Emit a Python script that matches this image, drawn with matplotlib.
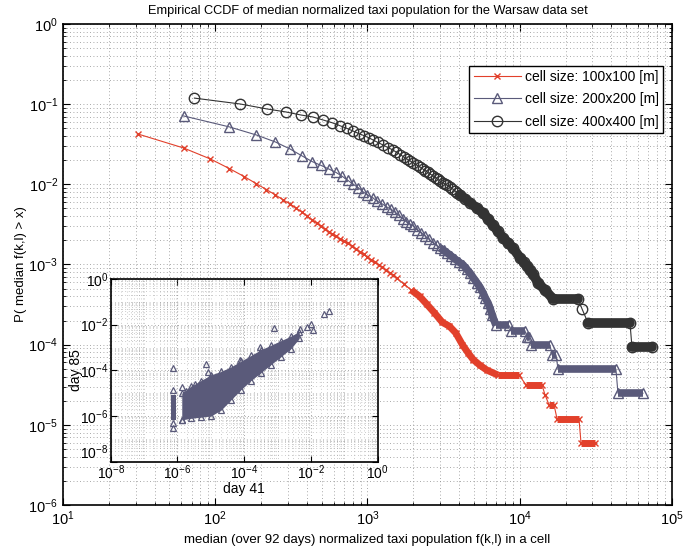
import numpy as np
import matplotlib.pyplot as plt
from matplotlib.lines import Line2D
from matplotlib.ticker import LogLocator, NullFormatter

plt.rcParams['font.family'] = ['Liberation Sans', 'DejaVu Sans']
plt.rcParams['mathtext.fontset'] = 'custom'
plt.rcParams['mathtext.rm'] = 'Liberation Sans'

# ---- main CCDF curves ----
red_x = [31, 62, 93, 124, 155, 186, 217, 248, 279, 310, 341, 372, 403, 434, 465, 496, 527,
         558, 589, 620, 660, 700, 745, 790, 840, 890, 945, 1000, 1060, 1120, 1185, 1250,
         1325, 1400, 1480, 1560, 1740, 1940, 2200, 2450, 2750, 3100, 3450, 3800, 4200, 4600,
         4950, 5500, 6100, 14650]
red_y = [0.0425, 0.0284, 0.0207, 0.0157, 0.0125, 0.0102, 0.0086, 0.0074, 0.0064, 0.0057,
         0.0050, 0.0045, 0.0040, 0.0036, 0.0033, 0.0030, 0.00278, 0.00257, 0.0024, 0.00225,
         0.0021, 0.00196, 0.00183, 0.00170, 0.00157, 0.00145, 0.00134, 0.00124, 0.00115,
         0.00106, 0.00099, 0.00092, 0.00085, 0.00079, 0.00073, 0.00067, 0.00057, 0.00048,
         0.00040, 0.00032, 0.00025, 0.00019, 0.00017, 0.00014, 0.000100, 0.000078, 0.000065,
         0.000055, 0.000048, 2.37e-5]
red_flat_x0 = [7194, 10990, 15570, 17570, 25250]
red_flat_x1 = [9886, 13990, 16790, 24490, 31190]
red_flat_y = [4.18e-5, 3.16e-5, 1.78e-5, 1.19e-5, 5.97e-6]

tri_x = [62, 124, 186, 248, 310, 372, 434, 496, 558, 620, 682, 744, 806, 868, 930, 1000,
         1080, 1154, 1250, 1343, 1430, 1516, 1610, 1711, 1800, 1902, 2000, 2115, 2250, 2388,
         2540, 2694, 2840, 2994, 3160, 3328, 3540, 3757, 4000, 4241, 4470, 4710, 4960, 5236,
         5480, 5739, 5950, 6187, 6400, 6575]
tri_y = [0.0713, 0.052, 0.0413, 0.0338, 0.0276, 0.0226, 0.0192, 0.0172, 0.0155, 0.0141,
         0.0126, 0.0112, 0.0100, 0.0091, 0.0081, 0.0074, 0.0068, 0.0062, 0.0057, 0.0052,
         0.0049, 0.0045, 0.0041, 0.0037, 0.0034, 0.0032, 0.0030, 0.0027, 0.0025, 0.00227,
         0.00206, 0.00186, 0.00173, 0.00161, 0.0015, 0.0014, 0.00128, 0.00117, 0.00107,
         0.00099, 0.00088, 0.000785, 0.00068, 0.00059, 0.00052, 0.000443, 0.00038, 0.000332,
         0.00028, 0.000235]
tri_flat_x0 = [6983, 8760, 11160, 11870, 16290, 17840, 44170]
tri_flat_x1 = [8492, 10820, 11510, 15800, 17310, 42830, 64420]
tri_flat_y = [1.74e-4, 1.49e-4, 1.24e-4, 9.9e-5, 7.44e-5, 4.96e-5, 2.48e-5]

blk_x = [73, 146, 219, 292, 365, 438, 511, 584, 657, 730, 803, 876, 949, 1022, 1090, 1170,
         1264, 1360, 1469, 1550, 1640, 1730, 1816, 1900, 2000, 2100, 2213, 2300, 2400, 2490,
         2576, 2690, 2800, 2900, 2994, 3110, 3230, 3350, 3483, 3610, 3750, 3900, 4053, 4380,
         4710, 5200, 5739, 6200, 6673, 7200, 7762, 8400, 9040, 10050, 10600, 11170, 11700,
         12220, 13180, 14650, 25640]
blk_y = [0.119, 0.1005, 0.0871, 0.0799, 0.0733, 0.0692, 0.0635, 0.0588, 0.054, 0.050,
         0.0463, 0.043, 0.0405, 0.038, 0.0357, 0.0333, 0.031, 0.0288, 0.0268, 0.0251, 0.0235,
         0.022, 0.0207, 0.0196, 0.0185, 0.0175, 0.0165, 0.0156, 0.0148, 0.0141, 0.0135,
         0.0128, 0.0121, 0.0115, 0.011, 0.0105, 0.0101, 0.0097, 0.0093, 0.0088, 0.0083,
         0.0078, 0.0074, 0.0066, 0.0059, 0.0051, 0.0044, 0.0037, 0.0031, 0.0026, 0.00215,
         0.00185, 0.0016, 0.00121, 0.00108, 0.00096, 0.00085, 0.00076, 0.00059, 0.00048, 2.8e-4]
blk_flat_x0 = [16520, 28070, 54580]
blk_flat_x1 = [24130, 52960, 73990]
blk_flat_y = [3.74e-4, 1.87e-4, 9.35e-5]

labels = ['cell size: 100x100 [m]', 'cell size: 200x200 [m]', 'cell size: 400x400 [m]']

# ---- inset: day 41 vs day 85 (log10 values) ----
band_lx = [-5.87, -5.6, -5.3, -5.0, -4.7, -4.4, -4.1, -3.8, -3.5, -3.2, -2.9, -2.6, -2.35]
band_up = [-5.0, -4.7, -4.45, -4.2, -4.05, -3.85, -3.6, -3.35, -3.1, -2.9, -2.7, -2.5, -2.3]
band_lo = [-6.17, -6.1, -6.05, -6.0, -5.75, -5.3, -4.85, -4.45, -4.1, -3.75, -3.4, -3.05, -2.6]
col_lx = [-6.2, -6.05]
col_up = [-5.1, -5.1]
col_lo = [-6.17, -6.17]
out_lx = [-6.12, -6.12, -6.12, -5.87, -5.48, -5.13, -5.08, -4.13, -3.53, -3.11, -2.33,
          -2.13, -2.01, -1.93, -1.61, -1.45, -5.87, -3.93, -6.12, -5.75]
out_ly = [-3.91, -4.86, -6.54, -4.72, -4.60, -3.72, -4.06, -3.55, -2.96, -2.16, -2.20,
          -2.09, -1.98, -2.23, -1.53, -1.40, -6.17, -4.13, -6.3, -4.9]

c_red = '#e2402b'
c_tri = '#5a5a7a'
c_blk = '#333333'
grid_kw = dict(color='0.55', linestyle=(0, (1, 3)), linewidth=0.6)


def draw_ccdf(ax, px, py, fx0, fx1, fy, color, marker, ms, bar_lw, cap, dense_from):
    xs = np.array(list(px) + fx0 + fx1, dtype=float)
    ys = np.array(list(py) + fy + fy, dtype=float)
    order = np.argsort(xs)
    xs, ys = xs[order], ys[order]
    ax.plot(xs, ys, '-', color=color, lw=0.8, zorder=3)
    ax.plot(xs, ys, ls='none', marker=marker, ms=ms, mfc='none', mec=color, mew=1.0, zorder=3)
    # where the markers pile up into a solid band
    sel = (xs >= dense_from) & (xs <= fx0[0])
    ax.plot(xs[sel], ys[sel], color=color, lw=bar_lw, solid_capstyle=cap,
            solid_joinstyle='round', zorder=3)
    for a, b, y in zip(fx0, fx1, fy):
        ax.plot([a, b], [y, y], color=color, lw=bar_lw, solid_capstyle=cap, zorder=3)


fig = plt.figure(figsize=(6.83, 5.53), dpi=100)
ax = fig.add_axes([0.0922, 0.0868, 0.8917, 0.8698])
ax.set_xscale('log')
ax.set_yscale('log')
ax.set_xlim(10, 1e5)
ax.set_ylim(1e-6, 1)

draw_ccdf(ax, red_x, red_y, red_flat_x0, red_flat_x1, red_flat_y, c_red, 'x', 5, 5, 'butt', 1900)
draw_ccdf(ax, tri_x, tri_y, tri_flat_x0, tri_flat_x1, tri_flat_y, c_tri, '^', 7, 5.5, 'butt', 2900)
draw_ccdf(ax, blk_x, blk_y, blk_flat_x0, blk_flat_x1, blk_flat_y, c_blk, 'o', 7.5, 7, 'round', 4000)

ax.grid(True, which='both', **grid_kw)
ax.xaxis.set_minor_locator(LogLocator(base=10, subs=np.arange(2, 10), numticks=50))
ax.yaxis.set_minor_locator(LogLocator(base=10, subs=np.arange(2, 10), numticks=50))
ax.xaxis.set_minor_formatter(NullFormatter())
ax.yaxis.set_minor_formatter(NullFormatter())
ax.tick_params(which='both', direction='in', top=True, right=True, labelsize=10.5)
ax.tick_params(which='major', length=5)
ax.tick_params(which='minor', length=2.5)
for s in ax.spines.values():
    s.set_linewidth(1.2)

ax.set_title('Empirical CCDF of median normalized taxi population for the Warsaw data set',
             fontsize=9.2, pad=7)
ax.set_xlabel('median (over 92 days) normalized taxi population f(k,l) in a cell', fontsize=9.5)
ax.set_ylabel('P( median f(k,l) > x)', fontsize=9.5, labelpad=1)

handles = [Line2D([], [], color=c_red, lw=0.8, marker='x', ms=5, mfc='none', mew=1),
           Line2D([], [], color=c_tri, lw=0.8, marker='^', ms=7, mfc='none', mew=1),
           Line2D([], [], color=c_blk, lw=0.8, marker='o', ms=7.5, mfc='none', mew=1)]
leg = ax.legend(handles, labels, loc='upper right', bbox_to_anchor=(0.971, 0.881),
                bbox_transform=fig.transFigure, fontsize=10, fancybox=False,
                edgecolor='black', framealpha=1, borderpad=0.3, labelspacing=0.6,
                handlelength=3.4, handletextpad=0.3, borderaxespad=0)
leg.get_frame().set_linewidth(1.0)

# ---- inset ----
ax_in = fig.add_axes([0.162, 0.1651, 0.391, 0.3304])
ax_in.set_xscale('log')
ax_in.set_yscale('log')
ax_in.set_xlim(1e-8, 1)
ax_in.set_ylim(1e-8, 1)

bx = 10 ** np.array(band_lx)
ax_in.fill_between(bx, 10 ** np.array(band_lo), 10 ** np.array(band_up), color=c_tri, lw=0, zorder=3)
ax_in.fill_between(10 ** np.array(col_lx), 10 ** np.array(col_lo), 10 ** np.array(col_up),
                   color=c_tri, lw=0, zorder=3)
ax_in.plot(bx, 10 ** np.array(band_up), ls='none', marker='^', ms=5, mfc='none', mec=c_tri, mew=0.9, zorder=3)
ax_in.plot(bx, 10 ** np.array(band_lo), ls='none', marker='^', ms=5, mfc='none', mec=c_tri, mew=0.9, zorder=3)
ax_in.plot(10 ** np.array(out_lx), 10 ** np.array(out_ly), ls='none', marker='^', ms=5,
           mfc='none', mec=c_tri, mew=0.9, zorder=3)

ax_in.set_xticks([1e-8, 1e-6, 1e-4, 1e-2, 1])
ax_in.set_yticks([1e-8, 1e-6, 1e-4, 1e-2, 1])
ax_in.xaxis.set_minor_locator(LogLocator(base=10, subs=np.arange(1, 10), numticks=100))
ax_in.yaxis.set_minor_locator(LogLocator(base=10, subs=np.arange(1, 10), numticks=100))
ax_in.xaxis.set_minor_formatter(NullFormatter())
ax_in.yaxis.set_minor_formatter(NullFormatter())
ax_in.grid(True, which='major', **grid_kw)
ax_in.grid(True, which='minor', color='0.6', linestyle=(0, (1, 4)), linewidth=0.5)
ax_in.tick_params(which='both', direction='in', top=True, right=True, labelsize=10, pad=1.5)
ax_in.tick_params(which='major', length=4)
ax_in.tick_params(which='minor', length=0)
for s in ax_in.spines.values():
    s.set_linewidth(1.2)
ax_in.set_xlabel('day 41', fontsize=10, labelpad=0)
ax_in.set_ylabel('day 85', fontsize=10, labelpad=-2)
# lift the lowest y label clear of the x labels, as in the original
ax_in.yaxis.get_major_ticks()[0].label1.set_verticalalignment('bottom')

fig.savefig('out.png', dpi=100)
